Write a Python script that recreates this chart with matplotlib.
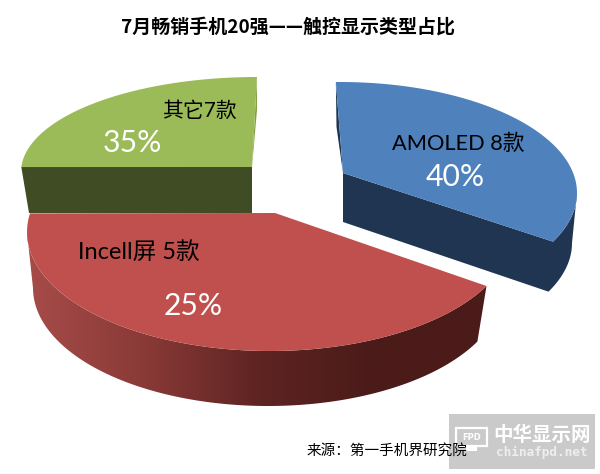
import numpy as np
import matplotlib
matplotlib.use("Agg")
import matplotlib.pyplot as plt
from matplotlib.colors import LinearSegmentedColormap
from matplotlib.patches import Polygon, Rectangle

plt.rcParams['font.family'] = ['Noto Sans CJK SC', 'DejaVu Sans']

# data
names = ["AMOLED 8款", "其它7款", "Incell屏 5款"]
percents = ["40%", "35%", "25%"]
# the drawn slices do not follow the printed percents, so sweep is read from the shape
start_deg = [-26, 90, 171]
sweep_deg = [117, 87, 162]

title = "7月畅销手机20强——触控显示类型占比"
source = "来源：第一手机界研究院"

# top face: ellipse centre x, y, rx, ry and the apex of the slice
blue_top = (340, 193, 237, 111)
green_top = (257, 172, 236, 95)
red_top = (270, 232, 243, 119)
blue_apex = (343, 173)
green_apex = (252, 167)
red_apex = (275, 213)
# lower rim of the sides
blue_low = (340, 243, 232, 111)
red_low = (268, 288, 235, 118)


def arc(ell, a, b):
    t = np.radians(np.linspace(a, b, 120))
    return np.column_stack([ell[0] + ell[2] * np.cos(t), ell[1] - ell[3] * np.sin(t)])


fig = plt.figure(figsize=(6, 4.74), dpi=100)
ax = fig.add_axes([0, 0, 1, 1])

# green slice
a, b = start_deg[1], start_deg[1] + sweep_deg[1]
green_arc = arc(green_top, a, b)
ax.add_patch(Polygon([green_arc[-1], green_apex, (252, 213), (29, 213)], fc="#404C24", ec="none"))
ax.add_patch(Polygon([green_arc[0], (257, 110), green_apex], fc="#84A046", ec="none"))
ax.add_patch(Polygon(np.vstack([[green_apex], green_arc]), fc="#9BBB59", ec="none"))

# blue slice
a, b = start_deg[0], start_deg[0] + sweep_deg[0]
blue_arc = arc(blue_top, a, b)
blue_side = np.vstack([[blue_apex, (343, 222)], arc(blue_low, a, 0), arc(blue_top, 0, a)])
ax.add_patch(Polygon(blue_side, fc="#1F3552", ec="none"))
ax.add_patch(Polygon([blue_arc[-1], (336.5, 127), blue_apex], fc="#1F3552", ec="none"))
ax.add_patch(Polygon(np.vstack([[blue_apex], blue_arc]), fc="#4F81BD", ec="none"))

# red slice, the side has a gradient
a, b = start_deg[2], start_deg[2] + sweep_deg[2]
red_arc = arc(red_top, a, b)
red_side = np.vstack([arc(red_top, 180, b), arc(red_low, b, 180)])
side_patch = Polygon(red_side, fc="none", ec="none")
ax.add_patch(side_patch)
cmap = LinearSegmentedColormap.from_list("side", ["#A64C49", "#8A3A37", "#5E2422", "#4B1B19", "#4B1B19"])
img = ax.imshow(np.linspace(0, 1, 256)[None, :], cmap=cmap, extent=(27, 490, 410, 225), aspect="auto")
img.set_clip_path(side_patch)
ax.add_patch(Polygon(np.vstack([[red_apex], red_arc]), fc="#C0504D", ec="none"))

# texts
ax.text(288, 27, title, ha="center", va="center", fontsize=13.7, fontweight="bold", color="black")

label_font = ['Lato', 'Noto Sans CJK SC']
ax.text(458, 144, names[0], ha="center", va="center", fontsize=15.7, family=label_font, color="black")
ax.text(199, 111, names[1], ha="center", va="center", fontsize=15, family=label_font, color="black")
ax.text(139, 252, names[2], ha="center", va="center", fontsize=17, family=label_font, color="black")
ax.text(455, 177, percents[0], ha="center", va="center", fontsize=21.7, family=label_font, color="white")
ax.text(132, 143, percents[1], ha="center", va="center", fontsize=21.7, family=label_font, color="white")
ax.text(193, 306, percents[2], ha="center", va="center", fontsize=21.7, family=label_font, color="white")

ax.text(387, 451, source, ha="center", va="center", fontsize=10.5, color="black")

# watermark
ax.add_patch(Rectangle((449, 414), 146, 55, fc="#C6C6C6", ec="none", alpha=0.92))
ax.add_patch(Rectangle((456, 428), 31, 18, fc="none", ec="white", lw=1.6))
ax.add_patch(Rectangle((466, 446), 11, 5, fc="white", ec="none"))
ax.text(471.5, 437, "FPD", ha="center", va="center", fontsize=6, fontweight="bold", color="white", family="DejaVu Sans")
ax.text(542, 435, "中华显示网", ha="center", va="center", fontsize=14, fontweight="bold", color="white")
ax.text(542, 452, "chinafpd.net", ha="center", va="center", fontsize=9.2, fontweight="bold", color="#EEEEEE", family="DejaVu Sans Mono")

ax.set_xlim(0, 600)
ax.set_ylim(474, 0)
ax.axis("off")

fig.savefig("out.png", dpi=100, facecolor="white")
